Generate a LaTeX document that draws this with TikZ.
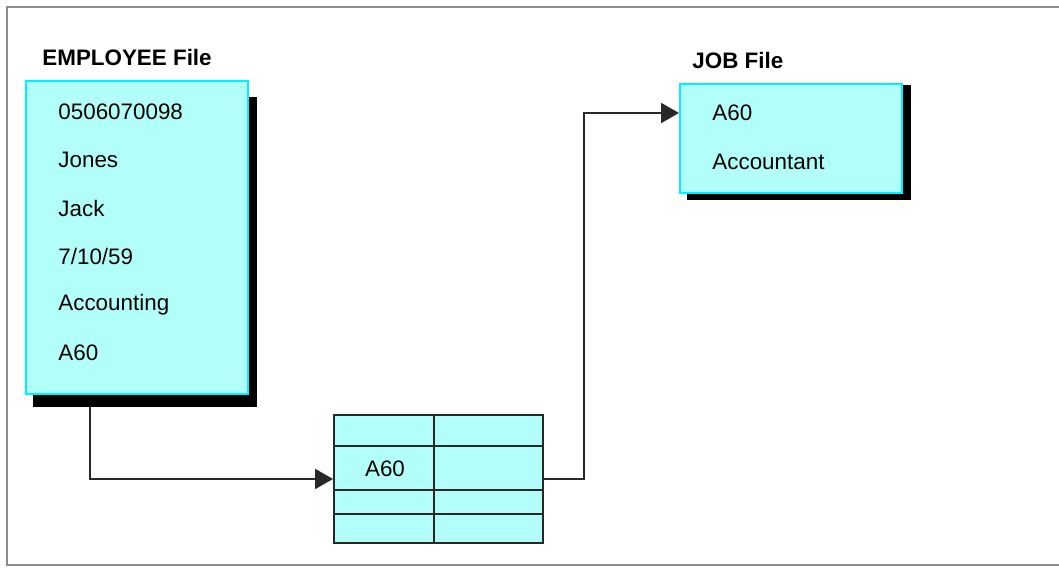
\documentclass[tikz,border=0pt]{standalone}
\usepackage{fontspec}
\setmainfont{Liberation Sans}
\usetikzlibrary{arrows.meta}

\definecolor{celeste}{RGB}{178,255,250}
\definecolor{borde}{RGB}{0,240,255}
\definecolor{marco}{RGB}{140,140,140}
\definecolor{linea}{RGB}{40,40,40}

\begin{document}
\begin{tikzpicture}[x=0.5pt,y=-0.5pt,
    caja/.style={draw=borde,fill=celeste,line width=1pt,inner sep=0pt,anchor=north west},
    texto/.style={anchor=west,inner sep=0pt,font=\fontsize{11.2}{13}\selectfont},
    titulo/.style={anchor=west,inner sep=0pt,font=\fontsize{11.2}{13}\selectfont\bfseries},
    flecha/.style={draw=linea,line width=1pt,-{Triangle[length=9pt,width=10pt]}}]
\useasboundingbox (0,0) rectangle (1059,567);

% Marco
\draw[marco,line width=1pt] (1059,7) -- (7,7) -- (7,565) -- (1059,565);

% Archivo EMPLOYEE
\node[titulo] (tEmp) at (42,57) {EMPLOYEE File};
\fill[black] (33,97) rectangle (257,407);
\node[caja,minimum width=111pt,minimum height=156.5pt] (emp) at (25,80) {};
\foreach \t [count=\i] in {0506070098,Jones,Jack,7/10/59,Accounting,A60}
  \node[texto] (e\i) at (58,{112+48.1*(\i-1)}) {\t};

% Archivo JOB
\node[titulo] (tJob) at (692,60) {JOB File};
\fill[black] (687,85) rectangle (911,200);
\node[caja,minimum width=111pt,minimum height=54.5pt] (job) at (679,83) {};
\node[texto] (j1) at (712,113) {A60};
\node[texto] (j2) at (712,162) {Accountant};

% Tabla
\node[caja,draw=linea,minimum width=104.5pt,minimum height=64pt] (tabla) at (333,414) {};
\draw[linea,line width=1pt] (434,414) -- (434,542);
\foreach \y in {446,490,514}
  \draw[linea,line width=1pt] (333,\y) -- (542,\y);
\node[texto,anchor=center] (celda) at (385,469) {A60};

% Conexiones
\coordinate (salida) at (90,407);
\draw[flecha] (salida) |- (tabla.west);
\draw[flecha] (tabla.east) -- ++(40,0) |- (job.west |- j1);
\end{tikzpicture}
\end{document}
